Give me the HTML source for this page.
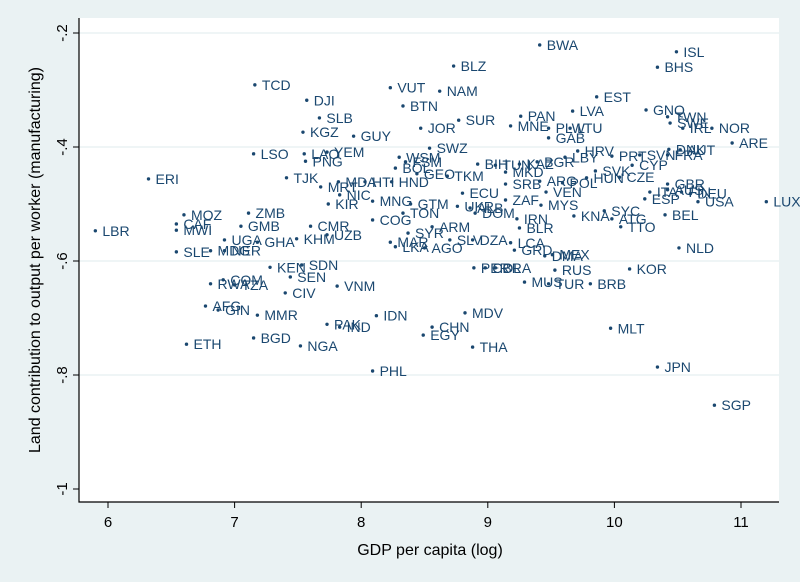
<!DOCTYPE html>
<html><head><meta charset="utf-8"><style>
html,body{margin:0;padding:0;background:#eaf2f3;}
svg{display:block;font-family:"Liberation Sans",Arial,sans-serif;}
</style></head><body>
<svg id="chart" width="800" height="582" viewBox="0 0 800 582">
<rect x="0" y="0" width="800" height="582" fill="#eaf2f3"/>
<rect x="79" y="18" width="700" height="484" fill="#ffffff"/>
<g id="grid"></g>
<g id="pts"></g>
<g id="axes"></g>
<text x="430" y="555" font-size="16" text-anchor="middle" fill="#000">GDP per capita (log)</text>
<text transform="translate(40,260) rotate(-90)" font-size="16" text-anchor="middle" fill="#000">Land contribution to output per worker (manufacturing)</text>
</svg>
<script>
const codes=["TCD","DJI","SLB","KGZ","GUY","LSO","LAO","YEM","PNG","TJK","ERI","MRT","NIC","MDA","HTI","HND","KIR","MNG","GTM","TON","COG","CMR","UZB","KHM","GHA","UGA","ZMB","GMB","MOZ","CAF","MWI","LBR","SLE","MDG","NER","KEN","SDN","SEN","VNM","CIV","COM","RWA","TZA","AFG","GIN","MMR","ETH","BGD","NGA","PAK","IND","IDN","CHN","EGY","MDV","THA","PHL","SYR","ARM","LKA","MAR","AGO","SLV","DZA","LCA","GRD","MEX","DMA","PER","COL","BRA","RUS","MUS","TUR","BRB","KOR","MLT","JPN","SGP","NLD","BEL","LUX","USA","ESP","ITA","AUS","FIN","DEU","GBR","ISL","BHS","BWA","EST","LVA","GNQ","TWN","SWE","IRL","NOR","ARE","DNK","AUT","FRA","SVN","CYP","PRT","HRV","LBY","SVK","CZE","HUN","POL","ARG","VEN","MYS","SRB","KAZ","BGR","MKD","BIH","TUN","TKM","BOL","GEO","ECU","ZAF","UKR","ALB","DOM","JOR","PAN","MNE","PLW","LTU","GAB","SUR","BTN","VUT","NAM","BLZ","SWZ","WSM","FSM","IRN","BLR","KNA","SYC","ATG","TTO"];
const gdp=[7.16,7.57,7.67,7.54,7.94,7.15,7.55,7.73,7.56,7.41,6.32,7.68,7.83,7.82,8.03,8.24,7.74,8.09,8.39,8.33,8.09,7.60,7.73,7.49,7.18,6.92,7.11,7.05,6.60,6.54,6.54,5.90,6.54,6.81,6.92,7.28,7.53,7.44,7.81,7.40,6.91,6.81,7.00,6.77,6.87,7.18,6.62,7.15,7.52,7.73,7.83,8.12,8.56,8.49,8.82,8.88,8.09,8.37,8.56,8.27,8.23,8.50,8.70,8.88,9.18,9.21,9.51,9.45,8.89,8.98,9.06,9.53,9.29,9.48,9.81,10.12,9.97,10.34,10.79,10.51,10.40,11.20,10.66,10.24,10.28,10.42,10.53,10.60,10.42,10.49,10.34,9.41,9.86,9.67,10.25,10.42,10.44,10.54,10.77,10.93,10.43,10.52,10.42,10.20,10.14,9.98,9.71,9.61,9.85,10.04,9.78,9.59,9.41,9.46,9.42,9.14,9.25,9.39,9.14,8.92,9.06,8.68,8.27,8.44,8.80,9.14,8.76,8.86,8.90,8.47,9.26,9.18,9.48,9.65,9.48,8.77,8.33,8.23,8.62,8.73,8.54,8.30,8.35,9.23,9.25,9.68,9.92,9.98,10.05];
const land=[-0.291,-0.318,-0.349,-0.374,-0.381,-0.412,-0.412,-0.409,-0.425,-0.454,-0.456,-0.470,-0.484,-0.461,-0.461,-0.461,-0.500,-0.495,-0.500,-0.516,-0.528,-0.539,-0.554,-0.561,-0.567,-0.563,-0.516,-0.539,-0.519,-0.535,-0.546,-0.547,-0.584,-0.582,-0.582,-0.611,-0.607,-0.628,-0.644,-0.656,-0.633,-0.640,-0.642,-0.679,-0.686,-0.695,-0.746,-0.735,-0.749,-0.711,-0.716,-0.696,-0.716,-0.730,-0.691,-0.751,-0.793,-0.551,-0.540,-0.575,-0.567,-0.577,-0.563,-0.563,-0.568,-0.581,-0.589,-0.591,-0.612,-0.612,-0.612,-0.616,-0.637,-0.640,-0.640,-0.614,-0.718,-0.786,-0.853,-0.577,-0.519,-0.496,-0.496,-0.491,-0.479,-0.475,-0.479,-0.482,-0.465,-0.233,-0.260,-0.221,-0.312,-0.337,-0.335,-0.347,-0.358,-0.367,-0.367,-0.393,-0.404,-0.405,-0.414,-0.414,-0.432,-0.416,-0.407,-0.418,-0.442,-0.453,-0.454,-0.463,-0.460,-0.479,-0.502,-0.465,-0.430,-0.426,-0.444,-0.430,-0.432,-0.451,-0.437,-0.447,-0.481,-0.493,-0.504,-0.507,-0.516,-0.367,-0.346,-0.363,-0.367,-0.367,-0.384,-0.353,-0.328,-0.296,-0.302,-0.258,-0.402,-0.418,-0.426,-0.526,-0.542,-0.521,-0.512,-0.526,-0.540];
const xTicks=[6,7,8,9,10,11];
const xTickLabels=["6","7","8","9","10","11"];
const yTicks=[-0.2,-0.4,-0.6,-0.8,-1];
const yTickLabels=["-.2","-.4","-.6","-.8","-1"];
const NS="http://www.w3.org/2000/svg";
function X(v){return 108+(v-6)*126.6;}
function Y(v){return 33+(-0.2-v)*570;}
function mk(t,a,p){const e=document.createElementNS(NS,t);for(const k in a)e.setAttribute(k,a[k]);p.appendChild(e);return e;}
const grid=document.getElementById('grid'),pts=document.getElementById('pts'),axes=document.getElementById('axes');
yTicks.forEach((v,i)=>{
  if(v>-1){const g=mk('line',{x1:79,x2:779,y1:Y(v),y2:Y(v),stroke:'#eaf2f3','stroke-width':1.5},grid);
  
  }
  const t=mk('line',{x1:73,x2:79,y1:Y(v),y2:Y(v),stroke:'#000','stroke-width':1},axes);
  
  
  const l=mk('text',{transform:`translate(67,${Y(v)}) rotate(-90)`,'font-size':15,'text-anchor':'middle',fill:'#000'},axes);
  
  
  l.textContent=yTickLabels[i];
});
xTicks.forEach((v,i)=>{
  const t=mk('line',{x1:X(v),x2:X(v),y1:502,y2:508,stroke:'#000','stroke-width':1},axes);
  
  
  const l=mk('text',{x:X(v),y:527,'font-size':15,'text-anchor':'middle',fill:'#000'},axes);
  
  
  l.textContent=xTickLabels[i];
});
const ax=mk('path',{d:'M79,18 V502 H779',fill:'none',stroke:'#000','stroke-width':1.2},axes);


codes.forEach((c,i)=>{
  const cx=X(gdp[i]),cy=Y(land[i]);
  const d=mk('circle',{cx:cx,cy:cy,r:1.7,fill:'#1a476f'},pts);
  
  
  const t=mk('text',{x:cx+7,y:cy+5,'font-size':14,fill:'#1a476f'},pts);
  
  
  t.textContent=c;
});
</script>
</body></html>
